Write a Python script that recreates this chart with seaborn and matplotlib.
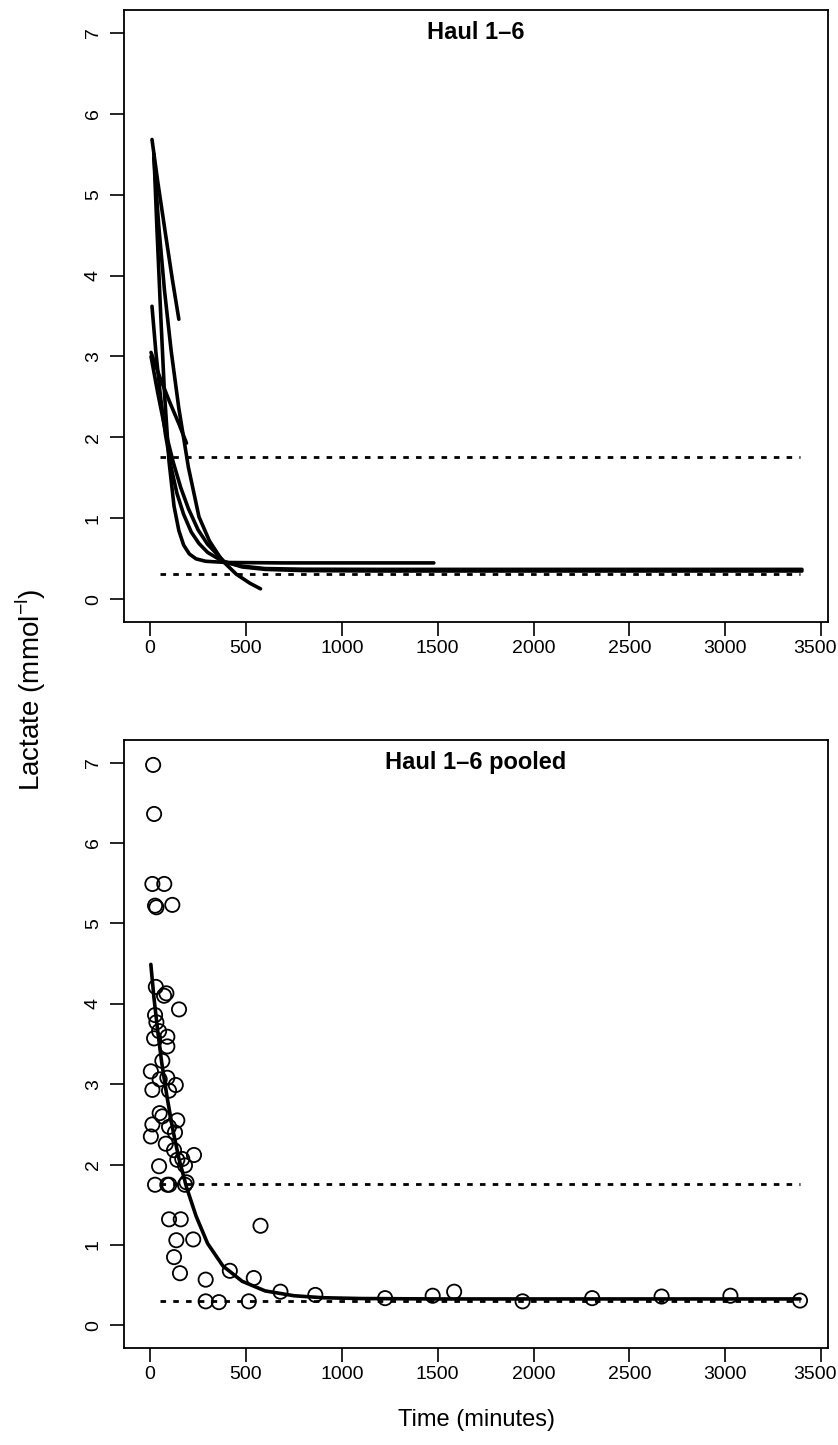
import numpy as np
import pandas as pd
import matplotlib
matplotlib.use("Agg")
import matplotlib.pyplot as plt
import matplotlib.transforms as mtransforms
import seaborn as sns

# ---------------- data ----------------
# Top panel: fitted decay curves for each haul (time in minutes, lactate mmol/l)
haul_a_t = [10, 40, 80, 115, 150]
haul_a_y = [5.68, 5.16, 4.52, 3.97, 3.46]

haul_b_t = [20, 35, 56, 75, 99, 125, 150, 175, 205, 240, 290, 400, 700, 1480]
haul_b_y = [5.50, 4.62, 3.49, 2.55, 1.70, 1.15, 0.85, 0.67, 0.56, 0.50, 0.47, 0.455, 0.45, 0.45]

haul_c_t = [10, 30, 55, 80, 110, 140, 175, 215, 255, 300, 385, 480, 600, 800, 1200, 3400]
haul_c_y = [3.62, 3.06, 2.49, 2.04, 1.63, 1.31, 1.05, 0.83, 0.69, 0.58, 0.46, 0.41, 0.38, 0.372, 0.37, 0.37]

haul_d_t = [5, 50, 100, 150, 190]
haul_d_y = [3.05, 2.75, 2.45, 2.17, 1.93]

haul_e_t = [20, 45, 75, 110, 150, 200, 255, 310, 376, 450, 520, 576]
haul_e_y = [5.45, 4.62, 3.82, 3.07, 2.36, 1.63, 1.02, 0.72, 0.48, 0.31, 0.20, 0.13]

haul_f_t = [5, 40, 80, 120, 160, 200, 250, 300, 385, 480, 600, 800, 1200, 3400]
haul_f_y = [3.00, 2.55, 2.08, 1.70, 1.38, 1.12, 0.86, 0.68, 0.47, 0.40, 0.37, 0.355, 0.35, 0.35]

# Bottom panel: pooled observations
pooled_t = [16, 21, 12, 74, 26, 33, 116,
            30, 73, 85, 151,
            26, 33, 47, 21, 90, 90, 64, 4, 50, 90, 134, 12, 99,
            50, 64, 142, 12, 99, 130, 4, 82, 125, 229, 142, 168, 182, 47,
            26, 90, 100, 182, 190,
            99, 160, 576, 137, 225, 125, 156,
            290, 416, 541, 680, 862, 290, 359, 515,
            1226, 1474, 1586, 1943, 2306, 2668, 3027, 3390]
pooled_y = [6.97, 6.36, 5.49, 5.49, 5.22, 5.20, 5.23,
            4.21, 4.10, 4.13, 3.93,
            3.86, 3.77, 3.66, 3.57, 3.59, 3.47, 3.29, 3.16, 3.06, 3.08, 2.99, 2.93, 2.92,
            2.64, 2.60, 2.55, 2.50, 2.47, 2.40, 2.35, 2.26, 2.18, 2.12, 2.06, 2.07, 1.99, 1.98,
            1.75, 1.75, 1.75, 1.75, 1.78,
            1.32, 1.32, 1.24, 1.06, 1.07, 0.85, 0.65,
            0.57, 0.68, 0.59, 0.42, 0.38, 0.30, 0.29, 0.30,
            0.34, 0.37, 0.42, 0.30, 0.34, 0.36, 0.37, 0.31]

# Pooled fitted curve
pooled_fit_t = [4, 20, 40, 60, 90, 120, 150, 190, 240, 300, 380, 480, 600, 750, 900, 1100, 1500, 3390]
pooled_fit_y = [4.49, 4.08, 3.66, 3.28, 2.82, 2.42, 2.08, 1.72, 1.36, 1.02, 0.74, 0.55, 0.43, 0.37, 0.345, 0.335, 0.33, 0.33]

# Reference (dotted) levels
ref_levels = [1.76, 0.31]
ref_t_range = [50, 3390]

x_ticks = [0, 500, 1000, 1500, 2000, 2500, 3000, 3500]
y_ticks = [0, 1, 2, 3, 4, 5, 6, 7]
titles = ["Haul 1\u20136", "Haul 1\u20136 pooled"]
x_label = "Time (minutes)"
y_label = r"Lactate (mmol$^{\mathregular{-l}}$)"

# ---------------- build tables ----------------
curves = []
for name, t, y in [("a", haul_a_t, haul_a_y), ("b", haul_b_t, haul_b_y),
                   ("c", haul_c_t, haul_c_y), ("d", haul_d_t, haul_d_y),
                   ("e", haul_e_t, haul_e_y), ("f", haul_f_t, haul_f_y)]:
    curves.append(pd.DataFrame({"haul": name, "time": t, "lactate": y}))
curves = pd.concat(curves, ignore_index=True)
pooled = pd.DataFrame({"time": pooled_t, "lactate": pooled_y})
pooled_fit = pd.DataFrame({"time": pooled_fit_t, "lactate": pooled_fit_y})

# ---------------- style ----------------
sns.set_theme(style="white")
plt.rcParams["font.family"] = ["Liberation Sans", "DejaVu Sans"]
plt.rcParams["mathtext.fontset"] = "custom"
plt.rcParams["mathtext.rm"] = "Liberation Sans"
plt.rcParams["text.color"] = "black"

W, H = 838, 1445
fig = plt.figure(figsize=(W / 100, H / 100), dpi=100)
fig.patch.set_facecolor("white")
ax1 = fig.add_axes([124 / W, 1 - 622 / H, 704 / W, 612 / H])
ax2 = fig.add_axes([124 / W, 1 - 1348 / H, 704 / W, 608 / H])

dot_style = (0, (2.0, 2.6))

# top panel
sns.lineplot(data=curves, x="time", y="lactate", units="haul", estimator=None,
             sort=False, color="black", lw=2.6, ax=ax1, legend=False)
# bottom panel
sns.scatterplot(data=pooled, x="time", y="lactate", marker="o", s=105,
                ax=ax2, legend=False, zorder=3)
coll = ax2.collections[-1]
coll.set_facecolor("none")
coll.set_edgecolor("black")
coll.set_linewidth(1.3)
sns.lineplot(data=pooled_fit, x="time", y="lactate", sort=False, estimator=None,
             color="black", lw=2.6, ax=ax2, legend=False)

for ax, title in zip([ax1, ax2], titles):
    for lvl in ref_levels:
        ax.hlines(lvl, ref_t_range[0], ref_t_range[1], colors="black",
                  linestyles=dot_style, lw=2.0)
    ax.set_xlim(-136, 3536)
    ax.set_ylim(-0.28, 7.28)
    ax.set_xticks(x_ticks)
    ax.set_yticks(y_ticks)
    ax.set_xlabel("")
    ax.set_ylabel("")
    ax.tick_params(axis="both", direction="out", length=10, width=1.2,
                   labelsize=14, colors="black", bottom=True, left=True)
    ax.tick_params(axis="x", pad=3)
    ax.tick_params(axis="y", pad=6)
    for lab in ax.get_yticklabels():
        lab.set_rotation(90)
        lab.set_va("center")
    # keep the last x label inside the figure
    last = ax.get_xticklabels()[-1]
    last.set_transform(last.get_transform() +
                       mtransforms.ScaledTranslation(-6 / 100, 0, fig.dpi_scale_trans))
    for sp in ax.spines.values():
        sp.set_visible(True)
        sp.set_color("black")
        sp.set_linewidth(1.3)
    ax.text(0.5, (7.0 + 0.28) / 7.56, title, transform=ax.transAxes,
            ha="center", va="center", fontsize=17, fontweight="bold")
    ax.set_facecolor("white")

fig.text(30 / W, 1 - 690 / H, y_label, rotation=90, ha="center", va="center",
         fontsize=20)
fig.text(476 / W, 1 - 1420 / H, x_label, ha="center", va="center", fontsize=17)

fig.savefig("out.png", dpi=100)
